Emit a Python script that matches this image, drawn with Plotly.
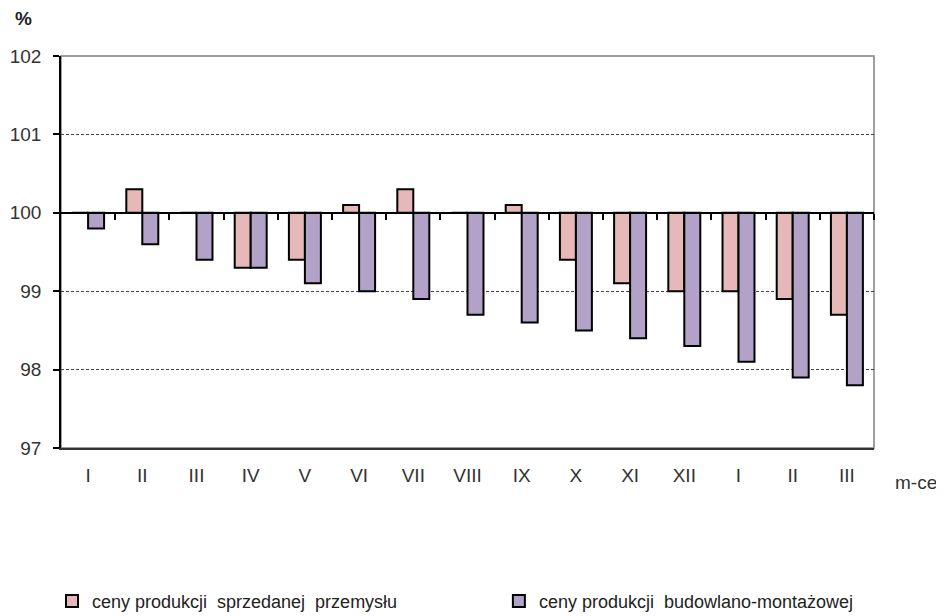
import plotly.graph_objects as go

months = ["I", "II", "III", "IV", "V", "VI", "VII", "VIII", "IX", "X", "XI", "XII", "I", "II", "III"]
przemysl = [100.0, 100.3, 100.0, 99.3, 99.4, 100.1, 100.3, 100.0, 100.1, 99.4, 99.1, 99.0, 99.0, 98.9, 98.7]
budowlano = [99.8, 99.6, 99.4, 99.3, 99.1, 99.0, 98.9, 98.7, 98.6, 98.5, 98.4, 98.3, 98.1, 97.9, 97.8]
base = 100.0
y_ticks = [97, 98, 99, 100, 101, 102]

xs = list(range(len(months)))
FONT = "Liberation Sans, Arial, sans-serif"

fig = go.Figure()
fig.add_trace(go.Bar(
    x=xs, y=[v - base for v in przemysl], base=base,
    name="ceny produkcji  sprzedanej  przemysłu", legend="legend",
    marker=dict(color="#E6B9B8", line=dict(color="black", width=2)),
))
fig.add_trace(go.Bar(
    x=xs, y=[v - base for v in budowlano], base=base,
    name="ceny produkcji  budowlano-montażowej", legend="legend2",
    marker=dict(color="#B3A2C7", line=dict(color="black", width=2)),
))
# invisible trace to carry the category-crossing axis at 100
fig.add_trace(go.Scatter(x=[xs[0]], y=[base], xaxis="x2", mode="markers",
                         marker=dict(opacity=0), showlegend=False, hoverinfo="skip"))

legend_style = dict(
    orientation="h", xref="container", yref="container",
    xanchor="left", yanchor="middle", y=0.037,
    font=dict(family=FONT, size=18, color="#222"),
    itemwidth=30, bgcolor="rgba(0,0,0,0)",
)

fig.update_layout(
    width=944, height=616,
    margin=dict(l=53, t=48, r=78, b=176, autoexpand=False),
    paper_bgcolor="white", plot_bgcolor="white",
    barmode="group", bargap=0.41, bargroupgap=0,
    font=dict(family=FONT, size=19, color="#222"),
    xaxis=dict(
        range=[-0.5, len(months) - 0.5],
        tickvals=xs, ticktext=months,
        showline=True, linecolor="#333", linewidth=1.5,
        ticks="", showgrid=False, zeroline=False,
        ticklabelstandoff=9,
        tickfont=dict(size=19, color="#333"),
    ),
    xaxis2=dict(
        overlaying="x", anchor="free", position=(base - 97) / (102 - 97),
        range=[-0.5, len(months) - 0.5],
        tickvals=[i + 0.5 for i in xs], showticklabels=False,
        ticks="outside", ticklen=6, tickcolor="black", tickwidth=1.5,
        showline=True, linecolor="black", linewidth=1.5,
        showgrid=False, zeroline=False,
    ),
    yaxis=dict(
        range=[97, 102], tickvals=y_ticks,
        showline=True, linecolor="black", linewidth=1.5,
        ticks="outside", ticklen=6, tickcolor="black", tickwidth=1.5,
        showgrid=True, gridcolor="#444", gridwidth=1, griddash="3px,2px",
        zeroline=False, ticklabelstandoff=8,
        tickfont=dict(size=19, color="#333"),
    ),
    legend=dict(legend_style, x=0.0466),
    legend2=dict(legend_style, x=0.52),
    showlegend=True,
    shapes=[
        dict(type="rect", xref="paper", yref="paper", x0=0, x1=1, y0=0, y1=1,
             line=dict(color="#808080", width=1.5), layer="below"),
    ],
    annotations=[
        dict(text="<b>%</b>", xref="paper", yref="paper", x=-0.046, y=1.095,
             xanchor="center", yanchor="middle", showarrow=False,
             font=dict(size=19, color="#222")),
        dict(text="m-ce", xref="paper", yref="paper", x=1.0234, y=-0.089,
             xanchor="left", yanchor="middle", showarrow=False,
             font=dict(size=19, color="#333")),
    ],
)

fig.write_html("out.html")
